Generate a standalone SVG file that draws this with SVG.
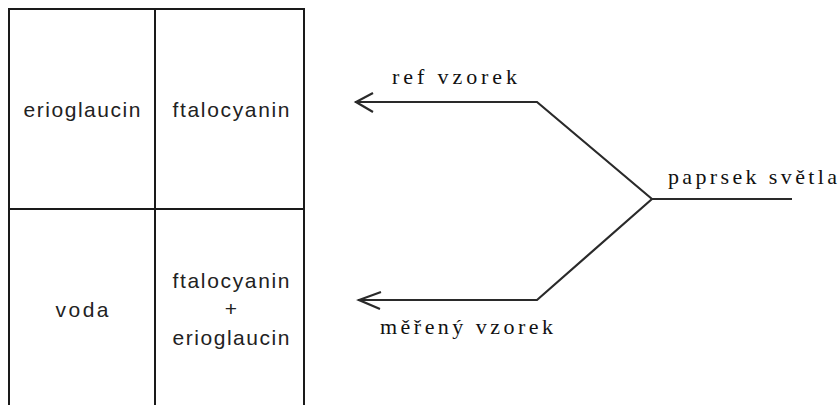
<svg xmlns="http://www.w3.org/2000/svg" width="840" height="405" viewBox="0 0 840 405">
<style>
.cell{fill:#fff;stroke:#1a1a1a;stroke-width:2}
.lbl{font-family:"Liberation Sans",Arial,sans-serif;font-size:21px;fill:#222;text-anchor:middle}
.ser{font-family:"Liberation Serif","Times New Roman",serif;font-size:22px;fill:#111}
.ln{fill:none;stroke:#2a2a2a;stroke-width:2.2;stroke-linejoin:miter}
</style>
<rect width="840" height="405" fill="#fff"/>
<g id="cell-erioglaucin">
<rect class="cell" x="9" y="9" width="146" height="200"/>
<text class="lbl" x="82" y="117" textLength="117" lengthAdjust="spacing">erioglaucin</text>
</g>
<g id="cell-ftalocyanin">
<rect class="cell" x="155" y="9" width="149" height="200"/>
<text class="lbl" x="231" y="117" textLength="117" lengthAdjust="spacing">ftalocyanin</text>
</g>
<g id="cell-voda">
<rect class="cell" x="9" y="209" width="146" height="200"/>
<text class="lbl" x="82" y="317" textLength="53" lengthAdjust="spacing">voda</text>
</g>
<g id="cell-mix">
<rect class="cell" x="155" y="209" width="149" height="200"/>
<text class="lbl" x="231" y="288" textLength="117" lengthAdjust="spacing">ftalocyanin</text>
<text class="lbl" x="231" y="316">+</text>
<text class="lbl" x="231" y="345" textLength="117" lengthAdjust="spacing">erioglaucin</text>
</g>
<g id="connectors">
<polyline class="ln" points="792,199 652,199 537,102 355,102"/>
<polyline class="ln" points="373,93 356,102 373,112"/>
<polyline class="ln" points="652,199 537,300 358,300"/>
<polyline class="ln" points="381,292 359,300 380,309"/>
</g>
<g id="labels">
<text class="ser" x="392" y="84" textLength="125" lengthAdjust="spacing">ref vzorek</text>
<text class="ser" x="380" y="334" textLength="173" lengthAdjust="spacing">měřený vzorek</text>
<text class="ser" x="668" y="184" textLength="169" lengthAdjust="spacing">paprsek světla</text>
</g>
</svg>
